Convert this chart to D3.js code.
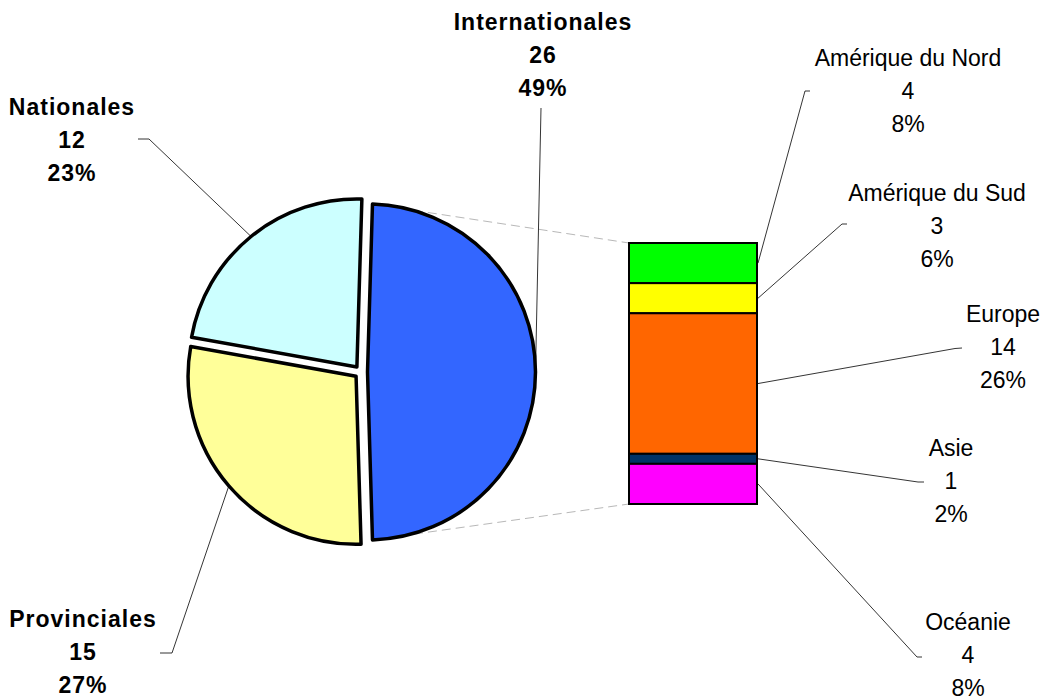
<!DOCTYPE html>
<html>
<head>
<meta charset="utf-8">
<script src="https://cdn.jsdelivr.net/npm/d3@7"></script>
<style>
  body { margin: 0; background: #fff; }
  text { font-family: "Liberation Sans", Arial, sans-serif; font-size: 23px; fill: #000; }
</style>
</head>
<body>
<div id="vis"></div>
<script>
// pie data
const mainNames = ["Internationales", "Provinciales", "Nationales"];
const mainValues = [26, 15, 12];
const mainPct = ["49%", "27%", "23%"];
const mainColors = ["#3366FF", "#FFFF99", "#CCFFFF"];

// bar (breakdown of Internationales)
const subNames = ["Amérique du Nord", "Amérique du Sud", "Europe", "Asie", "Océanie"];
const subValues = [4, 3, 14, 1, 4];
const subPct = ["8%", "6%", "26%", "2%", "8%"];
const subColors = ["#00FF00", "#FFFF00", "#FF6600", "#003366", "#FF00FF"];

// label layout: [center x, first baseline y] and leader elbow points
const mainLabelPos = [[543, 30], [83, 627], [72, 115]];
const mainElbows = [[[541, 108]], [[160, 653], [172, 653]], [[138, 139], [149, 139]]];
const subLabelPos = [[908, 66], [937, 201], [1003, 322], [951, 456], [968, 630]];
const subElbows = [
  [[810, 91], [805, 91]],
  [[847, 224], [842, 224]],
  [[962, 348], [955, 348.5]],
  [[924, 482], [918, 482]],
  [[922, 657], [917, 657]]
];

const width = 1058, height = 700;
const cx = 361, cy = 372, r = 168, explode = 6.5;
const barX0 = 629, barX1 = 757, barTop = 243, barBottom = 504;
const lineGap = 33;

const svg = d3.select("#vis").append("svg")
  .attr("width", width)
  .attr("height", height);

const total = d3.sum(mainValues);
const span0 = mainValues[0] / total * 2 * Math.PI;
const start = Math.PI / 2 - span0 / 2;

const pie = d3.pie().sort(null).startAngle(start).endAngle(start + 2 * Math.PI);
const arcs = pie(mainValues).map((d, i) => {
  const mid = (d.startAngle + d.endAngle) / 2;
  return {
    ...d, i,
    ox: cx + Math.sin(mid) * explode,
    oy: cy - Math.cos(mid) * explode,
    mid
  };
});
const arc = d3.arc().innerRadius(0).outerRadius(r);

const pt = (a, ang) => [a.ox + Math.sin(ang) * r, a.oy - Math.cos(ang) * r];

// bar scale
const subCum = d3.cumsum(subValues);
const y = d3.scaleLinear().domain([0, d3.sum(subValues)]).range([barTop, barBottom]);

// dashed connectors from the split slice to the bar
const blue = arcs[0];
svg.append("g").selectAll("line")
  .data([[pt(blue, blue.startAngle), [barX0, barTop]], [pt(blue, blue.endAngle), [barX0, barBottom]]])
  .join("line")
  .attr("x1", d => d[0][0]).attr("y1", d => d[0][1])
  .attr("x2", d => d[1][0]).attr("y2", d => d[1][1])
  .attr("stroke", "#b8b8b8")
  .attr("stroke-width", 1)
  .attr("stroke-dasharray", "9,5");

// leader lines for pie labels (under the slices)
const line = d3.line();
svg.append("g").selectAll("path")
  .data(arcs)
  .join("path")
  .attr("d", d => line([...mainElbows[d.i], pt(d, d.mid)]))
  .attr("fill", "none")
  .attr("stroke", "#000")
  .attr("stroke-width", 0.8);

// pie slices
svg.append("g").selectAll("path")
  .data(arcs)
  .join("path")
  .attr("transform", d => `translate(${d.ox},${d.oy})`)
  .attr("d", arc)
  .attr("fill", d => mainColors[d.i])
  .attr("stroke", "#000")
  .attr("stroke-width", 3.5)
  .attr("stroke-linejoin", "round");

// bar segments
svg.append("g").selectAll("rect")
  .data(subValues)
  .join("rect")
  .attr("x", barX0)
  .attr("width", barX1 - barX0)
  .attr("y", (d, i) => y(subCum[i] - d))
  .attr("height", d => y(d) - y(0))
  .attr("fill", (d, i) => subColors[i])
  .attr("stroke", "#000")
  .attr("stroke-width", 2);

// leader lines for bar labels
svg.append("g").selectAll("path")
  .data(subValues)
  .join("path")
  .attr("d", (d, i) => line([...subElbows[i], [barX1 + 1, y(subCum[i] - d / 2)]]))
  .attr("fill", "none")
  .attr("stroke", "#000")
  .attr("stroke-width", 0.8);

// labels
function addLabel(g, lines, pos, bold) {
  const t = g.append("text")
    .attr("text-anchor", "middle")
    .attr("font-weight", bold ? "bold" : "normal")
    .attr("letter-spacing", bold ? 1 : 0);
  lines.forEach((s, k) => {
    t.append("tspan").attr("x", pos[0]).attr("y", pos[1] + k * lineGap).text(s);
  });
}

const labels = svg.append("g");
mainNames.forEach((n, i) => addLabel(labels, [n, mainValues[i], mainPct[i]], mainLabelPos[i], true));
subNames.forEach((n, i) => addLabel(labels, [n, subValues[i], subPct[i]], subLabelPos[i], false));
</script>
</body>
</html>
